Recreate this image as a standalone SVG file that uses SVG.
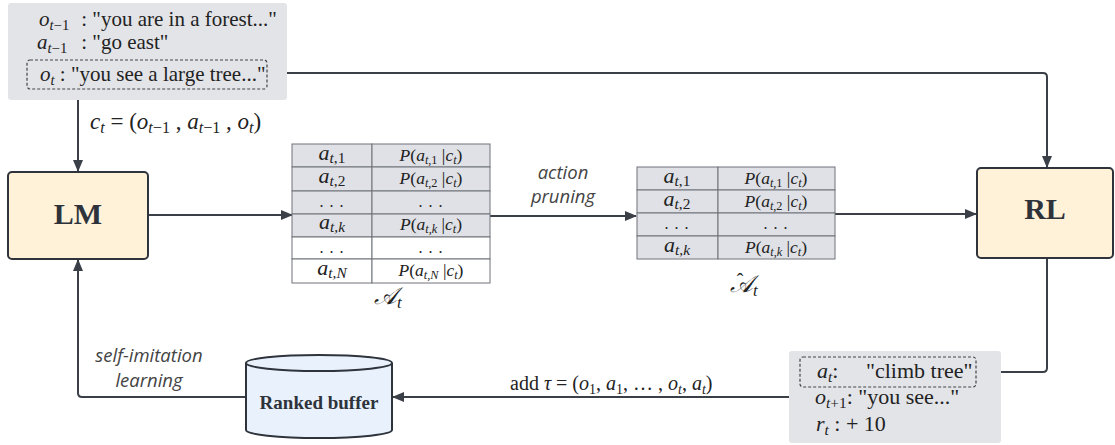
<svg xmlns="http://www.w3.org/2000/svg" width="1115" height="445" viewBox="0 0 1115 445">
<style>
.ser{font-family:"Liberation Serif","Times New Roman",serif;fill:#222;}
.it{font-style:italic;}
.sub{font-size:70%;}
.bold{font-weight:bold;fill:#2e333b;}
.sans{font-family:"Open Sans","Noto Sans",sans-serif;font-style:italic;fill:#444;font-size:18.5px;}
.conn{fill:none;stroke:#3a3f48;stroke-width:2;}
.gray{fill:#e2e4e8;}
.dash{fill:none;stroke:#444;stroke-width:1.2;stroke-dasharray:3,2;}
.box{fill:#fff2d9;stroke:#2f343c;stroke-width:2;}
.cellg{fill:#dfe1e6;stroke:#6f7378;stroke-width:1;}
.cellw{fill:#fff;stroke:#6f7378;stroke-width:1;}
.c1{font-size:22px;text-anchor:middle;}
.c2{font-size:17.5px;text-anchor:middle;}
.dots{font-size:16px;text-anchor:middle;letter-spacing:1px;}
</style>
<defs>
<marker id="ah" viewBox="0 0 12 10" refX="11" refY="5" markerWidth="12" markerHeight="10" markerUnits="userSpaceOnUse" orient="auto">
<path d="M0,0 L12,5 L0,10 Z" fill="#3a3f48"/>
</marker>
</defs>

<g id="connectors">
<path class="conn" d="M267,73 H1043 Q1047,73 1047,77 V167" marker-end="url(#ah)"/>
<path class="conn" d="M78,100 V171" marker-end="url(#ah)"/>
<path class="conn" d="M148,215 H292" marker-end="url(#ah)"/>
<path class="conn" d="M490,216 H636" marker-end="url(#ah)"/>
<path class="conn" d="M835,214 H976" marker-end="url(#ah)"/>
<path class="conn" d="M1047,258 V368 Q1047,372 1043,372 H977" marker-end="url(#ah)"/>
<path class="conn" d="M789,397 H393" marker-end="url(#ah)"/>
<path class="conn" d="M246,397 H82 Q78,397 78,393 V260" marker-end="url(#ah)"/>
<text class="ser" x="90" y="129" font-size="23"><tspan class="it">c</tspan><tspan class="sub it" dy="4">t</tspan><tspan dy="-4"> = (</tspan><tspan class="it">o</tspan><tspan class="sub" dy="4"><tspan class="it">t</tspan>−1</tspan><tspan dy="-4"> , </tspan><tspan class="it">a</tspan><tspan class="sub" dy="4"><tspan class="it">t</tspan>−1</tspan><tspan dy="-4"> , </tspan><tspan class="it">o</tspan><tspan class="sub it" dy="4">t</tspan><tspan dy="-4">)</tspan></text>
<text class="sans" x="563" y="179" text-anchor="middle">action</text>
<text class="sans" x="563" y="203" text-anchor="middle">pruning</text>
<text class="sans" x="149" y="362" text-anchor="middle">self-imitation</text>
<text class="sans" x="149" y="387" text-anchor="middle">learning</text>
<text class="ser" x="510" y="390" font-size="20">add <tspan class="it">τ</tspan> = (<tspan class="it">o</tspan><tspan class="sub" dy="4">1</tspan><tspan dy="-4">, </tspan><tspan class="it">a</tspan><tspan class="sub" dy="4">1</tspan><tspan dy="-4">, … , </tspan><tspan class="it">o</tspan><tspan class="sub it" dy="4">t</tspan><tspan dy="-4">, </tspan><tspan class="it">a</tspan><tspan class="sub it" dy="4">t</tspan><tspan dy="-4">)</tspan></text>
</g>

<g id="context">
<rect class="gray" x="8" y="3" width="279" height="97" rx="3"/>
<rect class="dash" x="27" y="60" width="240" height="29" rx="3"/>
<text class="ser" x="39" y="26" font-size="21"><tspan class="it">o</tspan><tspan class="sub" dy="4"><tspan class="it">t</tspan>−1</tspan><tspan dy="-4" x="76"> : "you are in a forest..."</tspan></text>
<text class="ser" x="37" y="49" font-size="21"><tspan class="it">a</tspan><tspan class="sub" dy="4"><tspan class="it">t</tspan>−1</tspan><tspan dy="-4" x="76"> : "go east"</tspan></text>
<text class="ser" x="40" y="81" font-size="21"><tspan class="it">o</tspan><tspan class="sub it" dy="4">t</tspan><tspan dy="-4"> : "you see a large tree..."</tspan></text>
</g>

<g id="LM">
<rect class="box" x="8" y="172" width="140" height="87" rx="4"/>
<text class="ser bold" x="78" y="224" font-size="30" text-anchor="middle">LM</text>
</g>

<g id="RL">
<rect class="box" x="977" y="168" width="136" height="90" rx="4"/>
<text class="ser bold" x="1045" y="219" font-size="30" text-anchor="middle">RL</text>
</g>

<g id="table-A">
<rect class="cellg" x="292" y="144" width="80" height="23"/><rect class="cellg" x="372" y="144" width="118" height="23"/>
<rect class="cellg" x="292" y="167" width="80" height="24"/><rect class="cellg" x="372" y="167" width="118" height="24"/>
<rect class="cellg" x="292" y="191" width="80" height="23"/><rect class="cellg" x="372" y="191" width="118" height="23"/>
<rect class="cellg" x="292" y="214" width="80" height="23"/><rect class="cellg" x="372" y="214" width="118" height="23"/>
<rect class="cellw" x="292" y="237" width="80" height="22"/><rect class="cellw" x="372" y="237" width="118" height="22"/>
<rect class="cellw" x="292" y="259" width="80" height="24"/><rect class="cellw" x="372" y="259" width="118" height="24"/>
<text class="ser c1" x="332" y="160"><tspan class="it">a</tspan><tspan class="sub" dy="3"><tspan class="it">t</tspan>,1</tspan></text>
<text class="ser c1" x="332" y="183"><tspan class="it">a</tspan><tspan class="sub" dy="3"><tspan class="it">t</tspan>,2</tspan></text>
<text class="ser dots" x="332" y="207">. . .</text>
<text class="ser c1" x="332" y="229"><tspan class="it">a</tspan><tspan class="sub it" dy="3">t,k</tspan></text>
<text class="ser dots" x="332" y="253">. . .</text>
<text class="ser c1" x="332" y="275"><tspan class="it">a</tspan><tspan class="sub it" dy="3">t,N</tspan></text>
<text class="ser c2" x="431" y="161"><tspan class="it">P</tspan>(<tspan class="it">a</tspan><tspan class="sub" dy="3"><tspan class="it">t</tspan>,1</tspan><tspan dy="-3"> |</tspan><tspan class="it">c</tspan><tspan class="sub it" dy="3">t</tspan><tspan dy="-3">)</tspan></text>
<text class="ser c2" x="431" y="184"><tspan class="it">P</tspan>(<tspan class="it">a</tspan><tspan class="sub" dy="3"><tspan class="it">t</tspan>,2</tspan><tspan dy="-3"> |</tspan><tspan class="it">c</tspan><tspan class="sub it" dy="3">t</tspan><tspan dy="-3">)</tspan></text>
<text class="ser dots" x="431" y="207">. . .</text>
<text class="ser c2" x="431" y="230"><tspan class="it">P</tspan>(<tspan class="it">a</tspan><tspan class="sub it" dy="3">t,k</tspan><tspan dy="-3"> |</tspan><tspan class="it">c</tspan><tspan class="sub it" dy="3">t</tspan><tspan dy="-3">)</tspan></text>
<text class="ser dots" x="431" y="253">. . .</text>
<text class="ser c2" x="431" y="276"><tspan class="it">P</tspan>(<tspan class="it">a</tspan><tspan class="sub it" dy="3">t,N</tspan><tspan dy="-3"> |</tspan><tspan class="it">c</tspan><tspan class="sub it" dy="3">t</tspan><tspan dy="-3">)</tspan></text>
<text class="ser" x="374" y="304" font-size="24"><tspan class="it">𝒜</tspan><tspan class="sub it" dy="4">t</tspan></text>
</g>

<g id="table-A-hat">
<rect class="cellg" x="637" y="167" width="81" height="23"/><rect class="cellg" x="718" y="167" width="117" height="23"/>
<rect class="cellg" x="637" y="190" width="81" height="23"/><rect class="cellg" x="718" y="190" width="117" height="23"/>
<rect class="cellg" x="637" y="213" width="81" height="23"/><rect class="cellg" x="718" y="213" width="117" height="23"/>
<rect class="cellg" x="637" y="236" width="81" height="23"/><rect class="cellg" x="718" y="236" width="117" height="23"/>
<text class="ser c1" x="677" y="183"><tspan class="it">a</tspan><tspan class="sub" dy="3"><tspan class="it">t</tspan>,1</tspan></text>
<text class="ser c1" x="677" y="206"><tspan class="it">a</tspan><tspan class="sub" dy="3"><tspan class="it">t</tspan>,2</tspan></text>
<text class="ser dots" x="677" y="229">. . .</text>
<text class="ser c1" x="677" y="252"><tspan class="it">a</tspan><tspan class="sub it" dy="3">t,k</tspan></text>
<text class="ser c2" x="776" y="184"><tspan class="it">P</tspan>(<tspan class="it">a</tspan><tspan class="sub" dy="3"><tspan class="it">t</tspan>,1</tspan><tspan dy="-3"> |</tspan><tspan class="it">c</tspan><tspan class="sub it" dy="3">t</tspan><tspan dy="-3">)</tspan></text>
<text class="ser c2" x="776" y="207"><tspan class="it">P</tspan>(<tspan class="it">a</tspan><tspan class="sub" dy="3"><tspan class="it">t</tspan>,2</tspan><tspan dy="-3"> |</tspan><tspan class="it">c</tspan><tspan class="sub it" dy="3">t</tspan><tspan dy="-3">)</tspan></text>
<text class="ser dots" x="776" y="229">. . .</text>
<text class="ser c2" x="776" y="253"><tspan class="it">P</tspan>(<tspan class="it">a</tspan><tspan class="sub it" dy="3">t,k</tspan><tspan dy="-3"> |</tspan><tspan class="it">c</tspan><tspan class="sub it" dy="3">t</tspan><tspan dy="-3">)</tspan></text>
<text class="ser" x="740" y="288" font-size="20" text-anchor="middle">ˆ</text>
<text class="ser" x="730" y="292" font-size="24"><tspan class="it">𝒜</tspan><tspan class="sub it" dy="4">t</tspan></text>
</g>

<g id="buffer">
<path d="M246,363 A73,8 0 0 1 392,363 V430 A73,8 0 0 1 246,430 Z" fill="#e8f1fc" stroke="#2f343c" stroke-width="2"/>
<path d="M246,363 A73,8 0 0 0 392,363" fill="none" stroke="#2f343c" stroke-width="2"/>
<text class="ser bold" x="319" y="409" font-size="19" text-anchor="middle">Ranked buffer</text>
</g>

<g id="transition">
<rect class="gray" x="789" y="351" width="212" height="92" rx="3"/>
<rect class="dash" x="800" y="357" width="176" height="30" rx="3"/>
<text class="ser" x="817" y="378" font-size="22"><tspan class="it">a</tspan><tspan class="sub it" dy="4">t</tspan><tspan dy="-4">:</tspan><tspan x="866">"climb tree"</tspan></text>
<text class="ser" x="815" y="404" font-size="22"><tspan class="it">o</tspan><tspan class="sub" dy="4"><tspan class="it">t</tspan>+1</tspan><tspan dy="-4">: "you see..."</tspan></text>
<text class="ser" x="816" y="431" font-size="22"><tspan class="it">r</tspan><tspan class="sub it" dy="4">t</tspan><tspan dy="-4"> :  + 10</tspan></text>
</g>
</svg>
